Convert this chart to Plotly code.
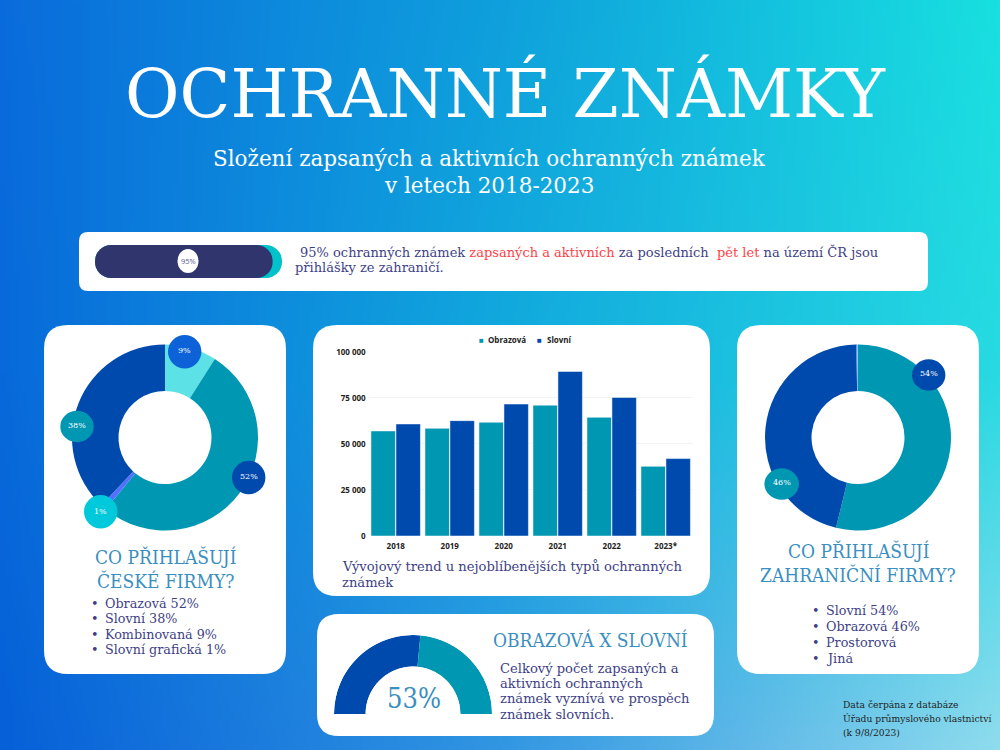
"""Ochranné známky - infographic rebuilt with Plotly."""
import base64
import struct
import zlib

import numpy as np
import plotly.graph_objects as go

# data
years = ["2018", "2019", "2020", "2021", "2022", "2023*"]
obrazova = [57000, 58400, 61700, 71000, 64400, 37800]
slovni = [60800, 62600, 71600, 89300, 75200, 42000]
y_ticks = [0, 25000, 50000, 75000, 100000]
y_tick_labels = ["0", "25 000", "50 000", "75 000", "100 000"]

cz_labels = ["Kombinovaná", "Obrazová", "Slovní grafická", "Slovní"]
cz_values = [9, 52, 1, 38]
cz_colors = ["#5ce1e6", "#0097b2", "#5271ff", "#004aad"]

foreign_labels = ["Obrazová", "Slovní", "Prostorová", "Jiná"]
foreign_values = [53.8, 45.9, 0.2, 0.1]
foreign_colors = ["#0097b2", "#004aad", "#5271ff", "#5ce1e6"]

gauge_labels = ["Slovní", "Obrazová"]
gauge_values = [53, 47]
gauge_colors = ["#004aad", "#0097b2"]

foreign_share = 95

cz_items = ["Obrazová 52%", "Slovní 38%", "Kombinovaná 9%", "Slovní grafická 1%"]
foreign_items = ["Slovní 54%", "Obrazová 46%", "Prostorová", "Jiná"]

SERIF = "DejaVu Serif"
COND = "DejaVu Serif Condensed"
SANS = "Open Sans"
NAVY = "#3e3f85"
TITLE_BLUE = "#3a8fc0"
W, H = 1000, 750

# background colours: rows top to bottom, columns left to right
bg_grid = np.array([
    [[10, 108, 220], [15, 160, 220], [24, 224, 224]],
    [[8, 106, 218], [18, 170, 222], [40, 218, 226]],
    [[6, 96, 216], [50, 150, 226], [144, 220, 238]],
], dtype=float)


def background_png():
    """PNG en data URI : dégradé du fond."""
    w, h = 250, 188
    xs = np.linspace(0, 2, w)
    ys = np.linspace(0, 2, h)
    i = np.minimum(ys.astype(int), 1)
    j = np.minimum(xs.astype(int), 1)
    fy = (ys - i)[:, None, None]
    fx = (xs - j)[None, :, None]
    top = bg_grid[i][:, j] * (1 - fx) + bg_grid[i][:, j + 1] * fx
    bot = bg_grid[i + 1][:, j] * (1 - fx) + bg_grid[i + 1][:, j + 1] * fx
    img = (top * (1 - fy) + bot * fy).astype(np.uint8)
    raw = b"".join(b"\x00" + row.tobytes() for row in img)

    def chunk(tag, data):
        crc = zlib.crc32(tag + data) & 0xffffffff
        return struct.pack(">I", len(data)) + tag + data + struct.pack(">I", crc)

    png = b"\x89PNG\r\n\x1a\n"
    png += chunk(b"IHDR", struct.pack(">IIBBBBB", w, h, 8, 2, 0, 0, 0))
    png += chunk(b"IDAT", zlib.compress(raw))
    png += chunk(b"IEND", b"")
    return "data:image/png;base64," + base64.b64encode(png).decode()


def px(x):
    return x / W


def py(y):
    return 1 - y / H


def card(x0, y0, x1, y1, r):
    """Carte blanche arrondie."""
    path = (
        f"M{px(x0 + r)},{py(y0)} L{px(x1 - r)},{py(y0)} Q{px(x1)},{py(y0)} {px(x1)},{py(y0 + r)} "
        f"L{px(x1)},{py(y1 - r)} Q{px(x1)},{py(y1)} {px(x1 - r)},{py(y1)} "
        f"L{px(x0 + r)},{py(y1)} Q{px(x0)},{py(y1)} {px(x0)},{py(y1 - r)} "
        f"L{px(x0)},{py(y0 + r)} Q{px(x0)},{py(y0)} {px(x0 + r)},{py(y0)} Z"
    )
    return dict(type="path", path=path, xref="paper", yref="paper",
                fillcolor="white", line_width=0, layer="below")


def badge(cx, cy, rx, ry, color, layer="above"):
    return dict(type="circle", xref="paper", yref="paper", x0=px(cx - rx), x1=px(cx + rx),
                y0=py(cy + ry), y1=py(cy - ry), fillcolor=color, line_width=0, layer=layer)


def label(x, y, text, size, color=NAVY, font=SERIF, xanchor="left", align="left", yanchor="middle"):
    return dict(x=px(x), y=py(y), xref="paper", yref="paper", text=text, showarrow=False,
                xanchor=xanchor, yanchor=yanchor, align=align, borderpad=0,
                font=dict(family=font, size=size, color=color))


def text_lines(x, y, dy, lines, size, color=NAVY, font=SERIF, xanchor="left"):
    """Une annotation par ligne, pour tenir l'interligne de l'original."""
    return [label(x, y + i * dy, t, size, color, font, xanchor, xanchor) for i, t in enumerate(lines)]


def bullets(x_dot, x_text, y, dy, items):
    out = text_lines(x_text, y, dy, items, 12.75)
    out += text_lines(x_dot, y, dy, ["•"] * len(items), 12.75)
    return out


fig = go.Figure()

# progress bar: a base makes plotly round both ends
for share, color in [(100, "#00c2cb"), (foreign_share, "#31356e")]:
    fig.add_trace(go.Bar(x=[share], base=[0], y=[0], width=[1], orientation="h",
                         xaxis="x2", yaxis="y2", offsetgroup="p", hoverinfo="skip",
                         marker=dict(color=color, cornerradius=16, line_width=0)))

# bars
fig.add_trace(go.Bar(x=years, y=obrazova, name="Obrazová",
                     marker=dict(color="#0097b2", line=dict(color="white", width=0.5))))
fig.add_trace(go.Bar(x=years, y=slovni, name="Slovní",
                     marker=dict(color="#004aad", line=dict(color="white", width=0.5))))

# donuts
fig.add_trace(go.Pie(labels=cz_labels, values=cz_values, hole=0.5, sort=False, direction="clockwise",
                     marker=dict(colors=cz_colors, line_width=0), textinfo="none",
                     domain=dict(x=[px(165 - 93), px(165 + 93)], y=[py(437.5 + 93), py(437.5 - 93)])))
fig.add_trace(go.Pie(labels=foreign_labels, values=foreign_values, hole=0.5, sort=False, direction="clockwise",
                     marker=dict(colors=foreign_colors, line_width=0), textinfo="none",
                     domain=dict(x=[px(858 - 93), px(858 + 93)], y=[py(437.5 + 93), py(437.5 - 93)])))

# half gauge
ends = np.cumsum(gauge_values) * 180 / sum(gauge_values)
starts = ends - np.array(gauge_values) * 180 / sum(gauge_values)
fig.add_trace(go.Barpolar(r=[1, 1], theta=list((starts + ends) / 2), width=list(ends - starts),
                          marker=dict(color=gauge_colors, line_width=0), hoverinfo="skip"))

shapes = [
    card(79, 232, 928, 291, 9),
    card(44, 325, 286, 674, 24),
    card(313, 325, 710, 596, 24),
    card(317, 614, 714, 736, 22),
    card(737, 325, 979, 674, 24),
    badge(188, 261, 10.5, 12, "white"),
    badge(184.7, 351.7, 16.7, 16.7, "#0c62d6"),
    badge(77, 426.5, 16.7, 15.7, "#0097b2"),
    badge(248.7, 477.5, 16.7, 16.7, "#004aad"),
    badge(100.7, 511.7, 16.7, 16.7, "#00c9dc"),
    badge(928.7, 375, 16.7, 15.7, "#004aad"),
    badge(781.7, 484, 17.3, 15.7, "#0097b2"),
]

red = '<span style="color:#ff3f46">%s</span>'
banner_1 = ("95% ochranných známek " + red % "zapsaných a aktivních" + " za posledních \u00a0"
            + red % "pět let" + " na území ČR jsou")

annotations = [
    label(505, 93, "OCHRANNÉ ZNÁMKY", 66.5, "white", SERIF, "center", "center"),
    *text_lines(489, 158, 27, ["Složení zapsaných a aktivních ochranných známek", "v letech 2018-2023"],
                21.5, "white", SERIF, "center"),
    label(188, 261, "95%", 7.5, "#5a5c90", SANS, "center", "center"),
    label(298.5, 252, banner_1, 13),
    label(294, 267, "přihlášky ze zahraničí.", 13),
    label(184.7, 350.5, "9%", 8, "white", xanchor="center"),
    label(77, 425.5, "38%", 8, "white", xanchor="center"),
    label(248.7, 476.5, "52%", 8, "white", xanchor="center"),
    label(100.7, 511, "1%", 8, "white", xanchor="center"),
    label(928.7, 373, "54%", 8, "white", xanchor="center"),
    label(781.7, 482, "46%", 8, "white", xanchor="center"),
    *text_lines(165, 557, 24, ["CO PŘIHLAŠUJÍ", "ČESKÉ FIRMY?"], 19, TITLE_BLUE, COND, "center"),
    *bullets(90, 104, 603, 15.5, cz_items),
    *text_lines(858, 551, 24, ["CO PŘIHLAŠUJÍ", "ZAHRANIČNÍ FIRMY?"], 19, TITLE_BLUE, COND, "center"),
    *bullets(811, 825, 610.5, 16, foreign_items),
    *text_lines(340.5, 566, 16, ["Vývojový trend u nejoblíbenějších typů ochranných", "známek"], 13.1),
    label(481, 339.5, '<span style="color:#0097b2">■</span>', 8, font=SANS, xanchor="center"),
    label(486.5, 339.5, "<b>Obrazová</b>", 8, "#222222", SANS),
    label(539, 339.5, '<span style="color:#004aad">■</span>', 8, font=SANS, xanchor="center"),
    label(545.5, 339.5, "<b>Slovní</b>", 8, "#222222", SANS),
    label(414, 698, "53%", 27, TITLE_BLUE, COND, "center", "center"),
    label(491.5, 640, "OBRAZOVÁ X SLOVNÍ", 19, TITLE_BLUE, COND),
    *text_lines(499, 668, 15.4, ["Celkový počet zapsaných a", "aktivních ochranných",
                                 "známek vyznívá ve prospěch", "známek slovních."], 13.1),
    *text_lines(841.5, 704, 14, ["Data čerpána z databáze", "Úřadu průmyslového vlastnictví", "(k 9/8/2023)"],
                9.2, "#222222"),
]

fig.update_layout(
    width=W, height=H, margin=dict(l=0, r=0, t=0, b=0, pad=0, autoexpand=False),
    paper_bgcolor="#0f9fdc", plot_bgcolor="rgba(0,0,0,0)",
    showlegend=False, barmode="group", bargap=0.075, bargroupgap=0.02,
    images=[dict(source=background_png(), xref="paper", yref="paper", x=0, y=1, sizex=1, sizey=1,
                 sizing="stretch", xanchor="left", yanchor="top", layer="below")],
    shapes=shapes, annotations=annotations,
    xaxis=dict(domain=[px(368.7), px(692.7)], range=[-0.5, 5.5], showgrid=False, zeroline=False, showline=False,
               ticks="", ticklabelstandoff=4, tickfont=dict(family=SANS, size=8, color="#222222", weight="bold")),
    yaxis=dict(domain=[py(536), py(351.7)], range=[0, 100000], tickvals=y_ticks, ticktext=y_tick_labels,
               gridcolor="#f3f3f3", zeroline=False, showline=False, ticks="", ticklabelstandoff=2,
               tickfont=dict(family=SANS, size=8, color="#222222", weight="bold")),
    xaxis2=dict(domain=[px(95), px(282)], range=[0, 100], visible=False, anchor="y2"),
    yaxis2=dict(domain=[py(278), py(245)], range=[-0.5, 0.5], visible=False, anchor="x2"),
    polar=dict(domain=dict(x=[px(334), px(492)], y=[py(714), py(635)]), sector=[0, 180], hole=0.6,
               bgcolor="rgba(0,0,0,0)",
               angularaxis=dict(visible=False, direction="clockwise", rotation=180),
               radialaxis=dict(visible=False, range=[0, 1])),
)

fig.write_html("out.html", config={"displayModeBar": False}, post_script="document.body.style.margin='0';")
